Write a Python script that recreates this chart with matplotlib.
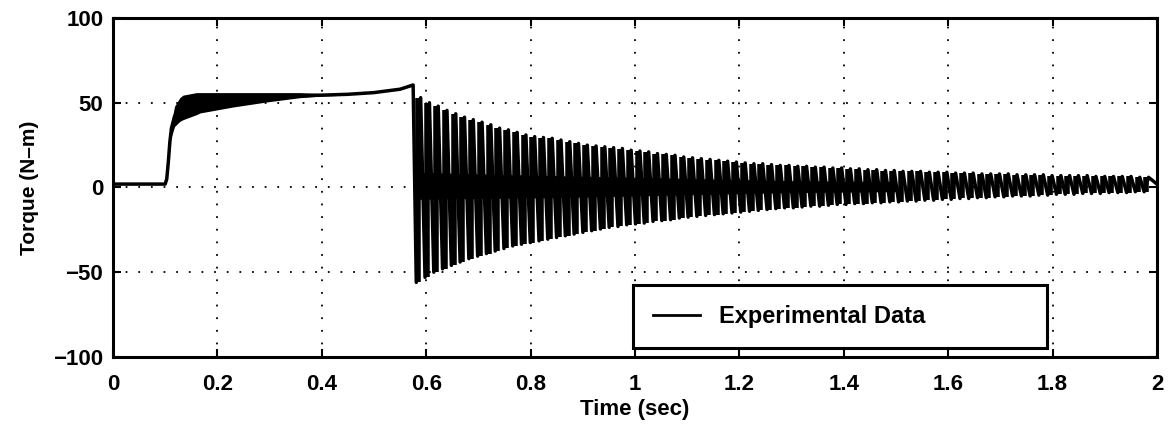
import numpy as np
import matplotlib
matplotlib.use("Agg")
import matplotlib.pyplot as plt

plt.rcParams['font.family'] = ['Liberation Sans', 'DejaVu Sans']
plt.rcParams['font.weight'] = 'bold'
plt.rcParams['axes.labelweight'] = 'bold'

# start-up phase (mean line)
t_start = [0.0, 0.05, 0.100, 0.103, 0.106, 0.109, 0.112, 0.118, 0.13, 0.16,
           0.23, 0.30, 0.40, 0.45, 0.50, 0.55, 0.570, 0.575]
torque_start = [2, 2, 2, 5, 15, 27, 35, 42, 47, 50,
                52, 53.5, 54.5, 55, 56, 58, 60, 60.5]

# ripple band during start-up
band_t = [0.110, 0.118, 0.128, 0.134, 0.16, 0.167, 0.23, 0.295, 0.358, 0.40, 0.45]
band_hi = [36, 48, 53, 54.5, 56, 56, 56, 56, 56, 55.5, 55]
band_lo = [28, 36, 39, 40, 43, 44, 47.5, 50.5, 53, 54, 54.5]

# decaying oscillation after the step: one trough and one peak per cycle
first_trough = 0.581
cycle = 0.0168
peaks = [53, 50, 48, 45.5, 43.5, 41.5, 40, 38.5, 37, 35,
         34, 32.5, 31, 30, 29.5, 29, 28, 27, 26, 25,
         24.5, 24, 23.5, 23, 22, 21.5, 21, 20, 19.5, 19,
         18, 17.5, 17, 16.5, 16, 15.5, 15, 14.5, 14, 14,
         13.5, 13, 13, 12.5, 12.5, 12, 12, 11.5, 11.5, 11,
         11, 10.5, 10.5, 10, 10, 9.5, 9.5, 9.5, 9, 9,
         9, 8.5, 8.5, 8.5, 8, 8, 8, 8, 7.5, 7.5,
         7.5, 7.5, 7, 7, 7, 7, 7, 6.5, 6.5, 6.5,
         6.5, 6.5, 6, 6]
troughs = [-56, -53, -50, -48, -46, -44, -42, -40.5, -39, -37.5,
           -36, -34.5, -33.5, -32.5, -31.5, -30.5, -29.5, -28.5, -27.5, -26.5,
           -25.5, -24.5, -23.5, -23, -22, -21.5, -21, -20, -19.5, -19,
           -18, -17.5, -17, -16.5, -16, -15.5, -15, -14.5, -14, -13.5,
           -13, -12.5, -12, -12, -11.5, -11, -11, -10.5, -10, -10,
           -9.5, -9.5, -9, -9, -8.5, -8.5, -8, -8, -7.5, -7.5,
           -7, -7, -6.5, -6.5, -6, -6, -5.5, -5.5, -5, -5,
           -5, -4.5, -4.5, -4, -4, -4, -3.5, -3.5, -3.5, -3,
           -3, -3, -2.5, -2.5]
t_end, torque_end = 2.0, 2

# dense middle of the oscillation
core_t = [0.585, 0.70, 0.85, 1.0, 1.15, 1.3, 1.5]
core_hi = [9, 8, 7, 6, 5, 4, 3.5]
core_lo = [-7, -6.5, -6, -5, -4, -3, -2.5]

x_ticks = [0, 0.2, 0.4, 0.6, 0.8, 1, 1.2, 1.4, 1.6, 1.8, 2]
x_labels = ['0', '0.2', '0.4', '0.6', '0.8', '1', '1.2', '1.4', '1.6', '1.8', '2']
y_ticks = [-100, -50, 0, 50, 100]

# build the zig-zag of the oscillating part
n = len(peaks)
t_tr = first_trough + cycle * np.arange(n)
t_pk = t_tr + cycle / 2
t_osc = np.empty(2 * n)
v_osc = np.empty(2 * n)
t_osc[0::2], t_osc[1::2] = t_tr, t_pk
v_osc[0::2], v_osc[1::2] = troughs, peaks
t_all = np.concatenate([t_start, t_osc, [t_end]])
v_all = np.concatenate([torque_start, v_osc, [torque_end]])

fig = plt.figure(figsize=(11.72, 4.3), dpi=100)
ax = fig.add_axes([0.0964, 0.170, 0.8908, 0.788])

ax.fill_between(band_t, band_lo, band_hi, color='black', lw=0)
ax.fill_between(core_t, core_lo, core_hi, color='black', lw=0)
line, = ax.plot(t_all, v_all, color='black', lw=2.5, label='Experimental Data')
# each cycle shows up in the scan as a thick near-vertical stroke
ax.vlines(t_pk - cycle / 4, troughs, peaks, color='black', lw=4.0)

ax.set_xlim(0, 2)
ax.set_ylim(-100, 100)
ax.set_xticks(x_ticks)
ax.set_xticklabels(x_labels)
ax.set_yticks(y_ticks)
ax.tick_params(direction='in', length=6, width=1.5, top=True, right=True,
               labelsize=16)
ax.tick_params(axis='x', pad=12)
ax.tick_params(axis='y', pad=7)
for s in ax.spines.values():
    s.set_linewidth(2.2)

ax.grid(True, color='black', linestyle=(0, (1, 6)), linewidth=1.3)
ax.set_xlabel('Time (sec)', fontsize=16, labelpad=3)
ax.set_ylabel('Torque (N\u2013m)', fontsize=15, labelpad=10)

leg = ax.legend(handles=[line], loc='center left',
                bbox_to_anchor=(0.498, 0.027, 0.397, 0.185), mode='expand',
                borderaxespad=0, fontsize=17, frameon=True, fancybox=False,
                handlelength=2.0, borderpad=0.85)
leg.legend_handles[0].set_linewidth(2.0)
leg.get_frame().set_edgecolor('black')
leg.get_frame().set_linewidth(2.2)
leg.get_frame().set_alpha(1)

fig.savefig('out.png', dpi=100)
